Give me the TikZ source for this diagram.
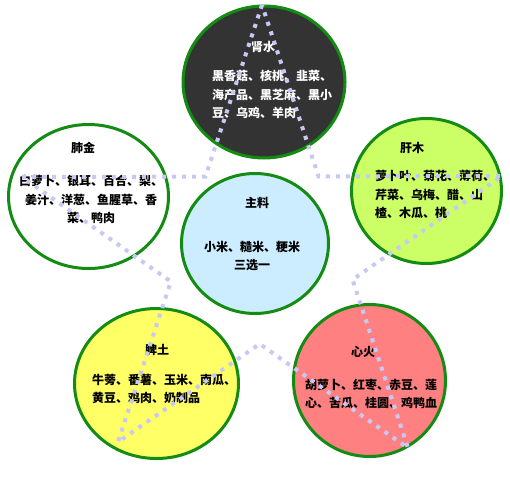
\documentclass[tikz,border=0pt]{standalone}
\usepackage{fontspec}
\newfontfamily\cjk{Noto Sans CJK SC}
\usetikzlibrary{shapes.geometric}

\definecolor{ringgreen}{RGB}{20,140,20}
\definecolor{starblue}{RGB}{200,200,245}
\definecolor{shuifill}{RGB}{51,51,51}
\definecolor{mufill}{RGB}{204,255,102}
\definecolor{zhufill}{RGB}{204,236,255}
\definecolor{tufill}{RGB}{255,255,102}
\definecolor{huofill}{RGB}{255,128,128}

\begin{document}
\begin{tikzpicture}[x=1pt,y=-1pt,
    element/.style={ellipse,draw=ringgreen,line width=3pt,inner sep=0pt},
    headtext/.style={anchor=base,inner sep=0pt,font=\cjk\bfseries\fontsize{12}{18.5}\selectfont},
    foods/.style={anchor=base west,inner sep=0pt,align=left,font=\cjk\bfseries\fontsize{12}{18.5}\selectfont},
    starline/.style={starblue,line width=4pt,dash pattern=on 4pt off 6pt}]
    \useasboundingbox (0,0) rectangle (510,492);

    % Elements
    \node[element,fill=shuifill,minimum width=162,minimum height=152] (shui) at (264,82) {};
    \node[element,fill=white,minimum width=160,minimum height=144] (jin) at (88.5,196.5) {};
    \node[element,fill=mufill,minimum width=150,minimum height=145] (mu) at (426.5,191) {};
    \node[element,fill=zhufill,minimum width=147,minimum height=140] (zhu) at (255,243.5) {};
    \node[element,fill=tufill,minimum width=164,minimum height=150] (tu) at (156.5,383.5) {};
    \node[element,fill=huofill,minimum width=152,minimum height=152] (huo) at (369.5,380.5) {};

    % Titles and foods (base = last line)
    \node[headtext,white] (shuiT) at (263,51.6) {肾水};
    \node[foods,white] (shuiL) at (212,117.6) {黑香菇、核桃、韭菜、\\海产品、黑芝麻、黑小\\豆、乌鸡、羊肉};

    \node[headtext] (jinT) at (83,152.6) {肺金};
    \node[foods,anchor=base,align=center] (jinL) at (91,222.6) {白萝卜、银耳、百合、梨、\\姜汁、洋葱、鱼腥草、香\\菜、鸭肉};

    \node[headtext] (muT) at (412,152.6) {肝木};
    \node[foods] (muL) at (375,217.6) {萝卜叶、菊花、薄荷、\\芹菜、乌梅、醋、山\\楂、木瓜、桃};

    \node[headtext] (zhuT) at (257,207.6) {主料};
    \node[foods,anchor=base,align=center] (zhuL) at (252,269.6) {小米、糙米、粳米\\三选一};

    \node[headtext] (tuT) at (157,354.6) {脾土};
    \node[foods] (tuL) at (92,402.6) {牛蒡、番薯、玉米、南瓜、\\黄豆、鸡肉、奶制品};

    \node[headtext] (huoT) at (363,356.6) {心火};
    \node[foods] (huoL) at (305,407.6) {胡萝卜、红枣、赤豆、莲\\心、苦瓜、桂圆、鸡鸭血};

    % Star outline
    \coordinate (vTop) at (262,5);
    \coordinate (vLeft) at (22,177);
    \coordinate (vRight) at (502,176);
    \coordinate (vBL) at (118,442);
    \coordinate (vBR) at (408,448);
    \coordinate (iTL) at (intersection of vTop--vBL and vLeft--vRight);
    \coordinate (iTR) at (intersection of vTop--vBR and vLeft--vRight);
    \coordinate (iLB) at (intersection of vTop--vBL and vLeft--vBR);
    \coordinate (iRB) at (intersection of vTop--vBR and vRight--vBL);
    \coordinate (iB) at (intersection of vLeft--vBR and vRight--vBL);
    \draw[starline] (vTop) -- (iTL) -- (vLeft) -- (iLB) -- (vBL) -- (iB)
        -- (vBR) -- (iRB) -- (vRight) -- (iTR) -- cycle;

\end{tikzpicture}
\end{document}
